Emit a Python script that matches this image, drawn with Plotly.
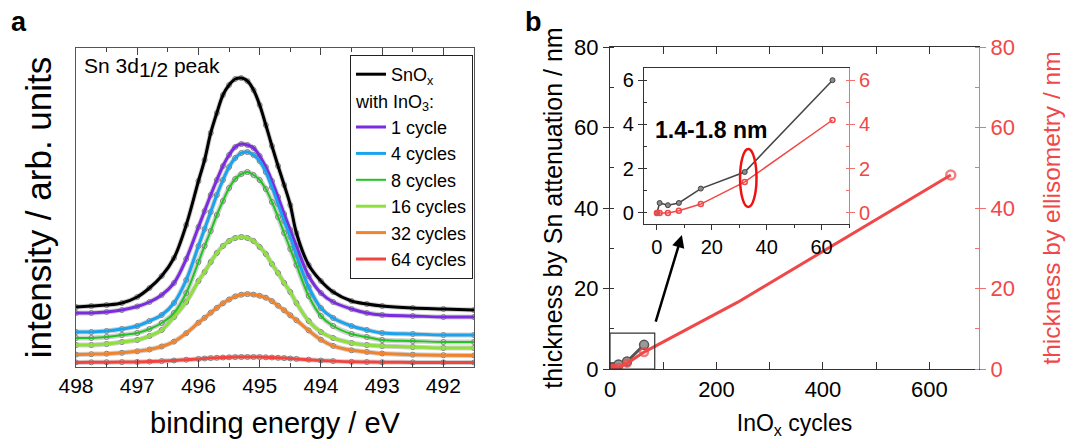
import plotly.graph_objects as go

W, H = 1077, 439
FONT = "Liberation Sans, Arial, sans-serif"

# ---------------- panel a data ----------------
BINDING_ENERGY = [498.0, 497.75, 497.5, 497.25, 497.0, 496.8, 496.6, 496.4, 496.2, 496.0,
                  495.9, 495.8, 495.7, 495.6, 495.5, 495.4, 495.3, 495.2, 495.1, 495.0,
                  494.9, 494.8, 494.7, 494.6, 494.5, 494.4, 494.2, 494.0, 493.8, 493.5,
                  493.25, 493.0, 492.5, 492.0, 491.5]
SNOX = [60, 61, 62, 64, 70, 79, 91, 109, 142, 186, 207, 234, 254, 272, 282, 288, 289, 286, 277, 262,
        242, 221, 201, 182, 162, 134, 102, 86, 75, 66, 63, 61, 59, 58, 57]
CYC_1 = [54, 54, 55, 57, 60.5, 65, 72, 84, 108, 140, 156, 172, 187, 201, 212, 220, 223, 222, 219, 211,
         200, 186, 170, 153, 137, 121, 91, 74, 65, 58, 54, 52, 51, 50, 50]
CYC_4 = [35, 35, 36, 38, 41, 46, 52, 64, 87, 121, 138, 155, 172, 187, 200, 209, 214, 215, 212, 206,
         195, 180, 163, 146, 130, 112, 80, 59, 49, 41, 37, 34, 33, 32, 32]
CYC_8 = [29, 29, 30, 32, 34, 38, 44, 54, 74, 105, 121, 136, 152, 166, 179, 188, 193, 195, 192, 187,
         178, 165, 150, 134, 118, 102, 71, 51, 41, 33, 30, 27, 26, 25, 25]
CYC_16 = [22, 22, 23, 25, 27, 31, 37, 50, 65, 86, 95, 105, 114, 121, 126, 129, 130, 129, 126, 120,
          113, 103, 94, 84, 75, 64, 46, 35, 29, 24, 22, 21, 20, 19, 19]
CYC_32 = [12.4, 12.8, 13.3, 14.2, 15.7, 17.5, 20.5, 25.4, 33.8, 44.3, 49.2, 54.3, 59.1, 63.7, 67.5,
          70.6, 72.3, 72.9, 72.4, 71.2, 69.3, 65.9, 61.3, 56.7, 51.7, 46.8, 36.6, 27.3, 21.1, 16.7,
          15.1, 13.5, 12.3, 11.8, 11.6]
CYC_64 = [4.6, 4.7, 4.8, 4.9, 5.1, 5.4, 5.9, 6.5, 7.3, 8.1, 8.5, 8.9, 9.2, 9.5, 9.7, 9.9, 10.0, 10.0,
          10.0, 9.9, 9.7, 9.5, 9.2, 8.9, 8.5, 8.1, 7.3, 6.5, 5.9, 5.2, 5.0, 4.8, 4.6, 4.6, 4.5]

SERIES_NAMES = ["SnO<sub>x</sub>", "1 cycle", "4 cycles", "8 cycles", "16 cycles", "32 cycles", "64 cycles"]
SERIES_VALUES = [SNOX, CYC_1, CYC_4, CYC_8, CYC_16, CYC_32, CYC_64]
SERIES_COLORS = ["#000000", "#7b2be0", "#1aa3ef", "#22c422", "#8fe03c", "#f0832e", "#f0463f"]
SERIES_WIDTHS = [3, 3, 3, 2, 3, 3, 3]
BE_MAJOR_TICKS = [498, 497, 496, 495, 494, 493, 492]
BE_MINOR_TICKS = [497.5, 496.5, 495.5, 494.5, 493.5, 492.5]

# ---------------- panel b data ----------------
CYCLES_SN = [0, 1, 4, 8, 16, 32, 64]
THICK_SN = [0, 0.45, 0.35, 0.45, 1.1, 1.85, 6.0]
CYCLES_ELL = [0, 1, 4, 8, 16, 32, 64, 240, 640]
THICK_ELL = [0, 0, 0, 0.1, 0.4, 1.4, 4.2, 16.6, 48.2]
ELL_MARKER_SIZE = [7, 7, 7, 7, 7, 7, 8, 0, 9]
INSET_MAX_CYCLE = 64

RED = "#f04848"
RED_AX = "#f27070"

fig = go.Figure()

# grey data circles (halo) under the fitted lines
for vals in SERIES_VALUES:
    fig.add_trace(go.Scatter(x=BINDING_ENERGY, y=vals, mode="lines",
                             line=dict(color="rgba(140,140,140,0.40)", width=5, shape="spline"),
                             showlegend=False, hoverinfo="skip", xaxis="x4", yaxis="y6"))
    fig.add_trace(go.Scatter(x=BINDING_ENERGY, y=vals, mode="markers",
                             marker=dict(symbol="circle-open", size=5, color="#808080", line=dict(width=1)),
                             showlegend=False, hoverinfo="skip", xaxis="x4", yaxis="y6"))

for i, (name, vals, col, lw) in enumerate(zip(SERIES_NAMES, SERIES_VALUES, SERIES_COLORS, SERIES_WIDTHS)):
    extra = {}
    if i == 0:
        extra["legendgroup"] = "ref"
    else:
        extra["legendgroup"] = "ino3"
        if i == 1:
            extra["legendgrouptitle"] = dict(text="with InO<sub>3</sub>:",
                                             font=dict(size=18, family=FONT, color="black"))
    fig.add_trace(go.Scatter(x=BINDING_ENERGY, y=vals, mode="lines", name=name,
                             line=dict(color=col, width=lw, shape="spline"), xaxis="x4", yaxis="y6", **extra))

# panel b main
fig.add_trace(go.Scatter(x=CYCLES_SN, y=THICK_SN, mode="lines+markers", showlegend=False,
                         line=dict(color="#555555", width=3),
                         marker=dict(size=9, color="#9a9a9a", line=dict(color="#555555", width=1.5)),
                         xaxis="x2", yaxis="y2"))
fig.add_trace(go.Scatter(x=CYCLES_ELL, y=THICK_ELL, mode="lines+markers", showlegend=False,
                         line=dict(color=RED, width=3),
                         marker=dict(symbol="circle-open", size=ELL_MARKER_SIZE, color=RED, line=dict(width=2.5)),
                         xaxis="x2", yaxis="y3"))

# inset
ins_sn = [(c, t) for c, t in zip(CYCLES_SN, THICK_SN) if c <= INSET_MAX_CYCLE]
ins_ell = [(c, t) for c, t in zip(CYCLES_ELL, THICK_ELL) if c <= INSET_MAX_CYCLE]
fig.add_trace(go.Scatter(x=[p[0] for p in ins_sn], y=[p[1] for p in ins_sn], mode="lines+markers",
                         showlegend=False, line=dict(color="#444444", width=1.5),
                         marker=dict(size=5, color="#8a8a8a", line=dict(color="#444444", width=1)),
                         xaxis="x3", yaxis="y4"))
fig.add_trace(go.Scatter(x=[p[0] for p in ins_ell], y=[p[1] for p in ins_ell], mode="lines+markers",
                         showlegend=False, line=dict(color=RED, width=1.5),
                         marker=dict(symbol="circle-open", size=5, color=RED, line=dict(width=1.5)),
                         xaxis="x3", yaxis="y5"))


def px_x(p):
    return p / W


def px_y(p):
    return 1 - p / H


def ax(**kw):
    d = dict(showgrid=False, zeroline=False, showline=True, linewidth=1.2,
             tickfont=dict(family=FONT, color="black"))
    d.update(kw)
    return d


A_LEFT, A_RIGHT, A_TOP, A_BOTTOM = 76, 474, 48, 367

fig.update_layout(
    width=W, height=H, margin=dict(l=0, r=0, t=0, b=0, autoexpand=False),
    paper_bgcolor="white", plot_bgcolor="white",
    font=dict(family=FONT, color="black"),
    showlegend=True,
    legend=dict(x=px_x(473), xanchor="right", y=px_y(55), yanchor="top",
                bgcolor="white", bordercolor="#222222", borderwidth=1,
                font=dict(size=18, family=FONT, color="black"), tracegroupgap=0),
    xaxis4=ax(domain=[px_x(A_LEFT), px_x(A_RIGHT)], anchor="y6", range=[498, 491.5],
              tickmode="array", tickvals=BE_MAJOR_TICKS, ticks="inside", ticklen=7, tickwidth=1.2,
              tickcolor="#444", mirror="allticks", linecolor="#555",
              tickfont=dict(family=FONT, color="black", size=21),
              minor=dict(tickmode="array", tickvals=BE_MINOR_TICKS, ticks="inside", ticklen=4,
                         tickwidth=1.2, tickcolor="#444"),
              title=dict(text="binding energy / eV", font=dict(size=29), standoff=22)),
    yaxis6=ax(domain=[px_y(A_BOTTOM), px_y(A_TOP)], anchor="x4", range=[0, 319],
              showticklabels=False, ticks="", mirror=True, linecolor="#555",
              title=dict(text="intensity / arb. units", font=dict(size=35), standoff=12)),
    xaxis2=ax(domain=[px_x(610), px_x(979)], anchor="y2", range=[0, 693],
              dtick=200, ticks="inside", ticklen=7, tickcolor="#333", mirror="allticks",
              linecolor="#333", minor=dict(dtick=100, ticks="inside", ticklen=4, tickcolor="#333"),
              tickfont=dict(family=FONT, color="black", size=22),
              title=dict(text="InO<sub>x</sub> cycles", font=dict(size=23), standoff=26)),
    yaxis2=ax(domain=[px_y(369), px_y(47)], anchor="x2", range=[0, 80],
              dtick=20, ticks="outside", ticklen=6, tickcolor="#333", linecolor="#333",
              minor=dict(dtick=10, ticks="inside", ticklen=4, tickcolor="#333"),
              tickfont=dict(family=FONT, color="black", size=22),
              title=dict(text="thickness by Sn attenuation / nm", font=dict(size=25), standoff=4)),
    yaxis3=ax(overlaying="y2", side="right", anchor="x2", range=[0, 80], dtick=20,
              ticks="outside", ticklen=6, tickcolor=RED_AX, linecolor=RED_AX,
              minor=dict(dtick=10, ticks="inside", ticklen=4, tickcolor=RED_AX),
              tickfont=dict(family=FONT, color=RED, size=22),
              title=dict(text="thickness by ellisometry / nm", font=dict(size=24.5, color=RED), standoff=28)),
    xaxis3=ax(domain=[px_x(644), px_x(849)], anchor="y4", range=[-4.7, 70],
              dtick=20, ticks="outside", ticklen=5, tickcolor="#333", mirror=True, linecolor="#333",
              minor=dict(dtick=10, ticks="outside", ticklen=3, tickcolor="#333"),
              tickfont=dict(family=FONT, color="black", size=20)),
    yaxis4=ax(domain=[px_y(224), px_y(68)], anchor="x3", range=[-0.5, 6.55],
              dtick=2, ticks="outside", ticklen=5, tickcolor="#333", linecolor="#333",
              minor=dict(dtick=1, ticks="inside", ticklen=3, tickcolor="#333"),
              tickfont=dict(family=FONT, color="black", size=20)),
    yaxis5=ax(overlaying="y4", side="right", anchor="x3", range=[-0.5, 6.55], dtick=2,
              ticks="outside", ticklen=5, tickcolor=RED_AX, linecolor=RED_AX,
              minor=dict(dtick=1, ticks="inside", ticklen=3, tickcolor=RED_AX),
              tickfont=dict(family=FONT, color=RED, size=20)),
)

# decorations of panel b
ZOOM_BOX = dict(x0=0, x1=84, y0=0, y1=8.9)
ELLIPSE = dict(x0=30.3, x1=36.3, y0=0.27, y1=2.89)
fig.add_shape(type="rect", xref="x2", yref="y2", **ZOOM_BOX, line=dict(color="#333", width=1.2))
fig.add_shape(type="circle", xref="x3", yref="y4", **ELLIPSE, line=dict(color="#ee1111", width=2.5))

fig.add_annotation(xref="x2", yref="y2", axref="x2", ayref="y2", x=135, y=33.3, ax=85, ay=11.4,
                   text="", showarrow=True, arrowhead=2, arrowsize=1, arrowwidth=2.5, arrowcolor="black")
fig.add_annotation(xref="x3", yref="y4", x=20, y=3.75, text="<b>1.4-1.8 nm</b>", showarrow=False,
                   font=dict(size=23, family=FONT, color="black"))
fig.add_annotation(xref="paper", yref="paper", x=px_x(82), y=px_y(52), xanchor="left", yanchor="top",
                   text='Sn 3d<sub><span style="font-size:21px">1/2</span></sub> peak', showarrow=False,
                   font=dict(size=21, family=FONT))
fig.add_annotation(xref="paper", yref="paper", x=px_x(19), y=px_y(22), xanchor="center", yanchor="middle",
                   text="<b>a</b>", showarrow=False, font=dict(size=27, family=FONT))
fig.add_annotation(xref="paper", yref="paper", x=px_x(533), y=px_y(22), xanchor="center", yanchor="middle",
                   text="<b>b</b>", showarrow=False, font=dict(size=27, family=FONT))

fig.write_html("out.html")
